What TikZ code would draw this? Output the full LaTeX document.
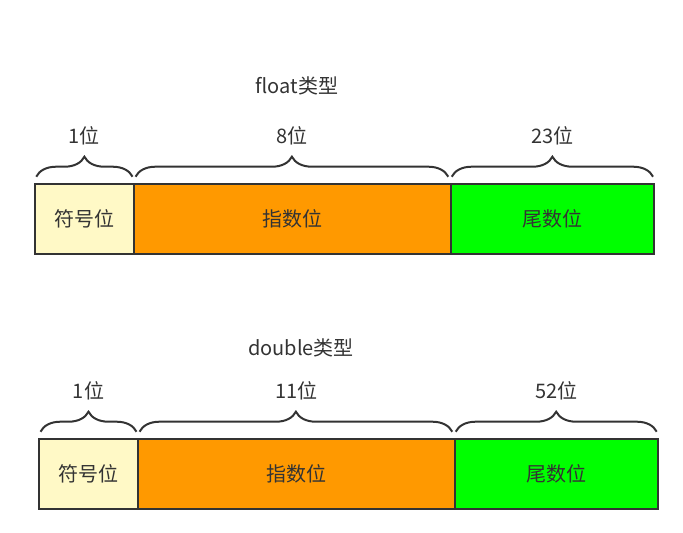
\documentclass[tikz,border=0pt]{standalone}
\usepackage{fontspec}
\setmainfont{Noto Sans CJK SC}
\usetikzlibrary{decorations.pathreplacing}
\definecolor{ink}{HTML}{333333}
\definecolor{signc}{HTML}{FFF9C6}
\definecolor{expc}{HTML}{FF9900}
\definecolor{mantc}{HTML}{00FF00}
\begin{document}
\begin{tikzpicture}[x=1pt,y=-1pt,
  field/.style={draw=ink,line width=2pt,inner sep=0pt,outer sep=0pt,minimum height=70pt,
    font=\fontsize{20}{23}\selectfont,text=ink},
  bracebar/.style={draw=ink,line width=2pt,decorate,decoration={brace,amplitude=20pt,aspect=0.5}},
  lbl/.style={font=\fontsize{20}{23}\selectfont,text=ink,inner sep=0pt}]
\useasboundingbox (0,0) rectangle (683,533);
% float
\node[lbl] (t1) at (297,86) {float类型};
\node[field,fill=signc,minimum width=99.3pt] (s1) at (84.4,218.7) {符号位};
\node[field,fill=expc,minimum width=316.7pt] (e1) at (292.4,218.7) {指数位};
\node[field,fill=mantc,minimum width=203.3pt] (m1) at (552.4,218.7) {尾数位};
\draw[bracebar] ([xshift=1.5pt,yshift=7pt]s1.north west) -- ([xshift=-1.5pt,yshift=7pt]s1.north east);
\draw[bracebar] ([xshift=1.5pt,yshift=7pt]e1.north west) -- ([xshift=-2.5pt,yshift=7pt]e1.north east);
\draw[bracebar] ([xshift=1pt,yshift=7pt]m1.north west) -- ([xshift=-1pt,yshift=7pt]m1.north east);
\node[lbl] (b1s) at ([yshift=48pt]s1.north) {1位};
\node[lbl] (b1e) at ([yshift=48pt]e1.north) {8位};
\node[lbl] (b1m) at ([yshift=48pt]m1.north) {23位};
% double
\node[lbl] (t2) at (301,348) {double类型};
\node[field,fill=signc,minimum width=99pt] (s2) at (88.5,473.7) {符号位};
\node[field,fill=expc,minimum width=316.7pt] (e2) at (296.4,473.7) {指数位};
\node[field,fill=mantc,minimum width=203pt] (m2) at (556.2,473.7) {尾数位};
\draw[bracebar] ([xshift=1.5pt,yshift=7pt]s2.north west) -- ([xshift=-1.5pt,yshift=7pt]s2.north east);
\draw[bracebar] ([xshift=1.5pt,yshift=7pt]e2.north west) -- ([xshift=-2.5pt,yshift=7pt]e2.north east);
\draw[bracebar] ([xshift=1pt,yshift=7pt]m2.north west) -- ([xshift=-1pt,yshift=7pt]m2.north east);
\node[lbl] (b2s) at ([yshift=48pt]s2.north) {1位};
\node[lbl] (b2e) at ([yshift=48pt]e2.north) {11位};
\node[lbl] (b2m) at ([yshift=48pt]m2.north) {52位};
\end{tikzpicture}
\end{document}
